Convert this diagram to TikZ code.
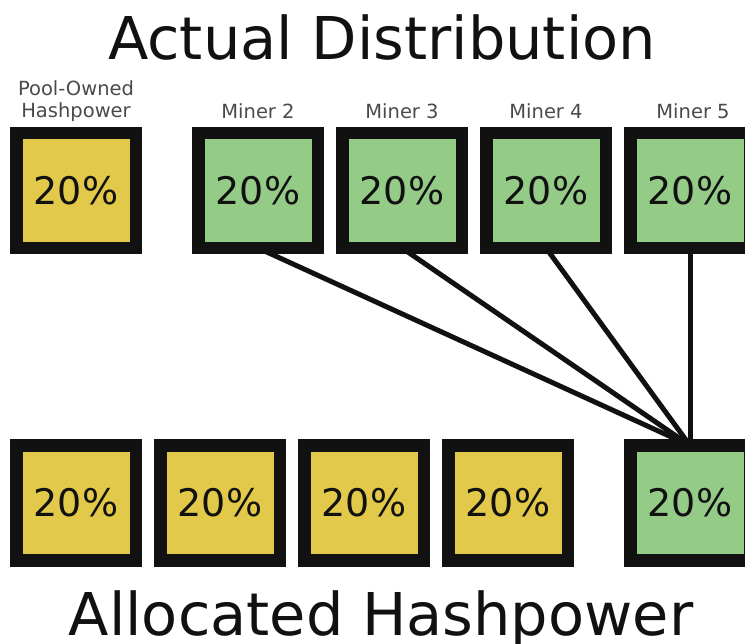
\documentclass[tikz,border=0pt]{standalone}
\usepackage{fontspec}
\setmainfont{DejaVu Sans}
\usetikzlibrary{positioning}

\definecolor{poolyellow}{HTML}{E3C94A}
\definecolor{minergreen}{HTML}{94CB86}
\definecolor{edgeblack}{HTML}{111111}
\definecolor{labelgray}{HTML}{4A4A4A}

\begin{document}
\begin{tikzpicture}[x=1pt, y=-1pt,
  sharebox/.style={draw=edgeblack, line width=12.5pt, inner sep=0pt, outer sep=0pt,
    minimum width=119.5pt, minimum height=115pt, text=edgeblack,
    font=\fontsize{38}{44}\selectfont},
  poolbox/.style={sharebox, fill=poolyellow},
  minerbox/.style={sharebox, fill=minergreen},
  boxlabel/.style={anchor=base, text=labelgray, align=center,
    font=\fontsize{19.5}{22}\selectfont},
  heading/.style={anchor=base, text=edgeblack, font=\fontsize{59}{66}\selectfont},
  link/.style={draw=edgeblack, line width=5pt}]

\clip (0,0) rectangle (745,644);

% Title
\node[heading] (toptitle) at (382,60) {Actual Distribution};

% ============ TOP ROW: actual distribution ============
\node[poolbox]  (pool) at (76,190.5)  {20\%};
\node[minerbox] (m2)   at (258,190.5) {20\%};
\node[minerbox] (m3)   at (402,190.5) {20\%};
\node[minerbox] (m4)   at (546,190.5) {20\%};
\node[minerbox] (m5)   at (690,190.5) {20\%};

\node[boxlabel] (poollbl) at (76,118) {Pool-Owned\\Hashpower};
\node[boxlabel] (m2lbl) at (258,119) {Miner 2};
\node[boxlabel] (m3lbl) at (402,119) {Miner 3};
\node[boxlabel] (m4lbl) at (546,119) {Miner 4};
\node[boxlabel] (m5lbl) at (693,119) {Miner 5};

% ============ BOTTOM ROW: allocated hashpower ============
\node[poolbox]  (a1) at (76,503)  {20\%};
\node[poolbox]  (a2) at (220,503) {20\%};
\node[poolbox]  (a3) at (364,503) {20\%};
\node[poolbox]  (a4) at (508,503) {20\%};
\node[minerbox] (a5) at (690,503) {20\%};

% Miners 2-5 all land on the one allocated share
\draw[link] (m2.south) -- (a5.north);
\draw[link] (m3.south) -- (a5.north);
\draw[link] (m4.south) -- (a5.north);
\draw[link] (m5.south) -- (a5.north);

% Bottom title
\node[heading] (bottitle) at (381,635) {Allocated Hashpower};

\end{tikzpicture}
\end{document}
